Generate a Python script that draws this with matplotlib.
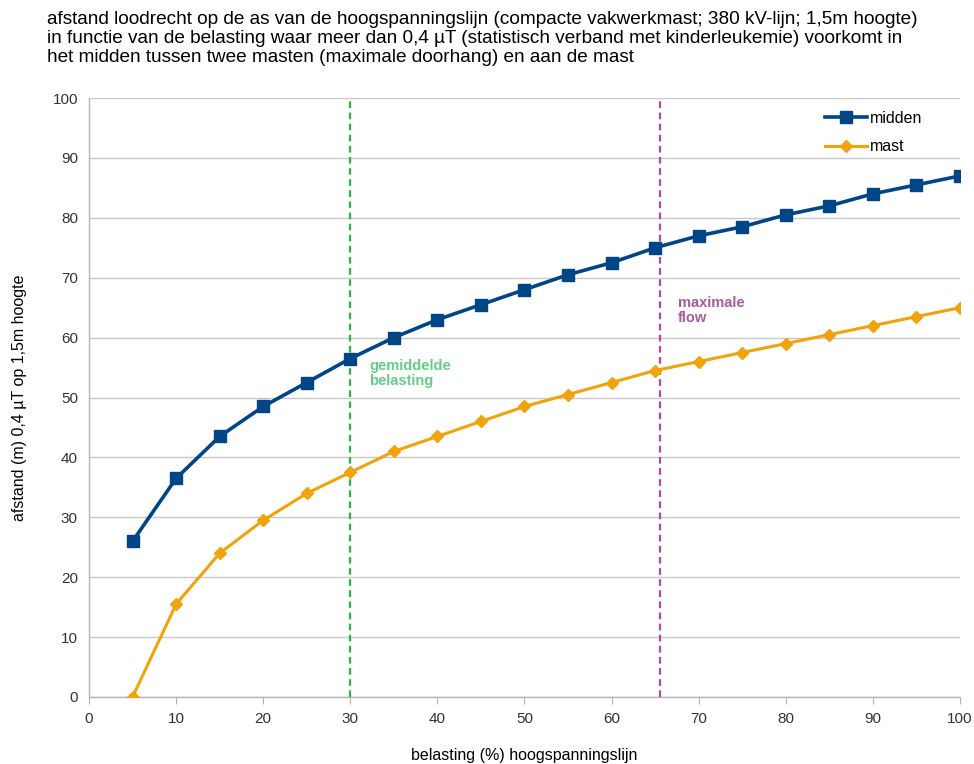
import matplotlib
matplotlib.use("Agg")
import matplotlib.pyplot as plt

# belasting (%) and afstand (m) per series
belasting = [5, 10, 15, 20, 25, 30, 35, 40, 45, 50, 55, 60, 65, 70, 75, 80, 85, 90, 95, 100]
midden = [26, 36.5, 43.5, 48.5, 52.5, 56.5, 60, 63, 65.5, 68, 70.5, 72.5, 75, 77, 78.5,
          80.5, 82, 84, 85.5, 87]
mast = [0, 15.5, 24, 29.5, 34, 37.5, 41, 43.5, 46, 48.5, 50.5, 52.5, 54.5, 56, 57.5,
        59, 60.5, 62, 63.5, 65]

gem_belasting = 30
max_flow = 65.6

TITLE = ("afstand loodrecht op de as van de hoogspanningslijn (compacte vakwerkmast; 380 kV-lijn; 1,5m hoogte)\n"
         "in functie van de belasting waar meer dan 0,4 µT (statistisch verband met kinderleukemie) voorkomt in\n"
         "het midden tussen twee masten (maximale doorhang) en aan de mast")

plt.rcParams["font.family"] = ["Liberation Sans", "DejaVu Sans"]

fig = plt.figure(figsize=(9.74, 7.64), dpi=100)
ax = fig.add_axes([0.0914, 0.0877, 0.8942, 0.784])

ax.plot(belasting, midden, color="#004586", linewidth=2.6, marker="s", markersize=9,
        label="midden", zorder=4)
ax.plot(belasting, mast, color="#f0a30a", linewidth=2.2, marker="D", markersize=6,
        label="mast", zorder=4)

ax.axvline(gem_belasting, color="#22bb44", linestyle=(0, (3, 2)), linewidth=1.6, zorder=3)
ax.axvline(max_flow, color="#b4479e", linestyle=(0, (3, 2)), linewidth=1.6, zorder=3)

ax.text(gem_belasting + 2.2, 56.5, "gemiddelde\nbelasting", color="#66cc88", fontsize=10.5,
        fontweight="bold", va="top", ha="left", linespacing=1.15)
ax.text(max_flow + 2.0, 67.0, "maximale\nflow", color="#a85a9e", fontsize=10.5,
        fontweight="bold", va="top", ha="left", linespacing=1.15)

ax.set_xlim(0, 100)
ax.set_ylim(0, 100)
ax.set_xticks(range(0, 101, 10))
ax.set_yticks(range(0, 101, 10))
ax.yaxis.grid(True, color="#c8c8c8", linewidth=1.0)
ax.set_axisbelow(True)
for side in ("top", "right"):
    ax.spines[side].set_visible(False)
for side in ("left", "bottom"):
    ax.spines[side].set_color("#b3b3b3")
    ax.spines[side].set_linewidth(1.0)
ax.tick_params(axis="x", colors="#b3b3b3", labelcolor="#333333", labelsize=11, length=5, pad=6)
ax.tick_params(axis="y", colors="#b3b3b3", labelcolor="#333333", labelsize=11, length=0, pad=8)

ax.set_xlabel("belasting (%) hoogspanningslijn", fontsize=11.5, labelpad=16)
ax.set_ylabel("afstand (m) 0,4 µT op 1,5m hoogte", fontsize=11.5, labelpad=18)

ax.legend(loc="upper right", bbox_to_anchor=(0.968, 0.995), frameon=False, fontsize=11.5,
          handlelength=2.6, labelspacing=0.85, handletextpad=0.2, borderaxespad=0.2)

fig.text(0.048, 0.986, TITLE, fontsize=13.7, va="top", ha="left", linespacing=1.16)

fig.savefig("out.png", dpi=100)
